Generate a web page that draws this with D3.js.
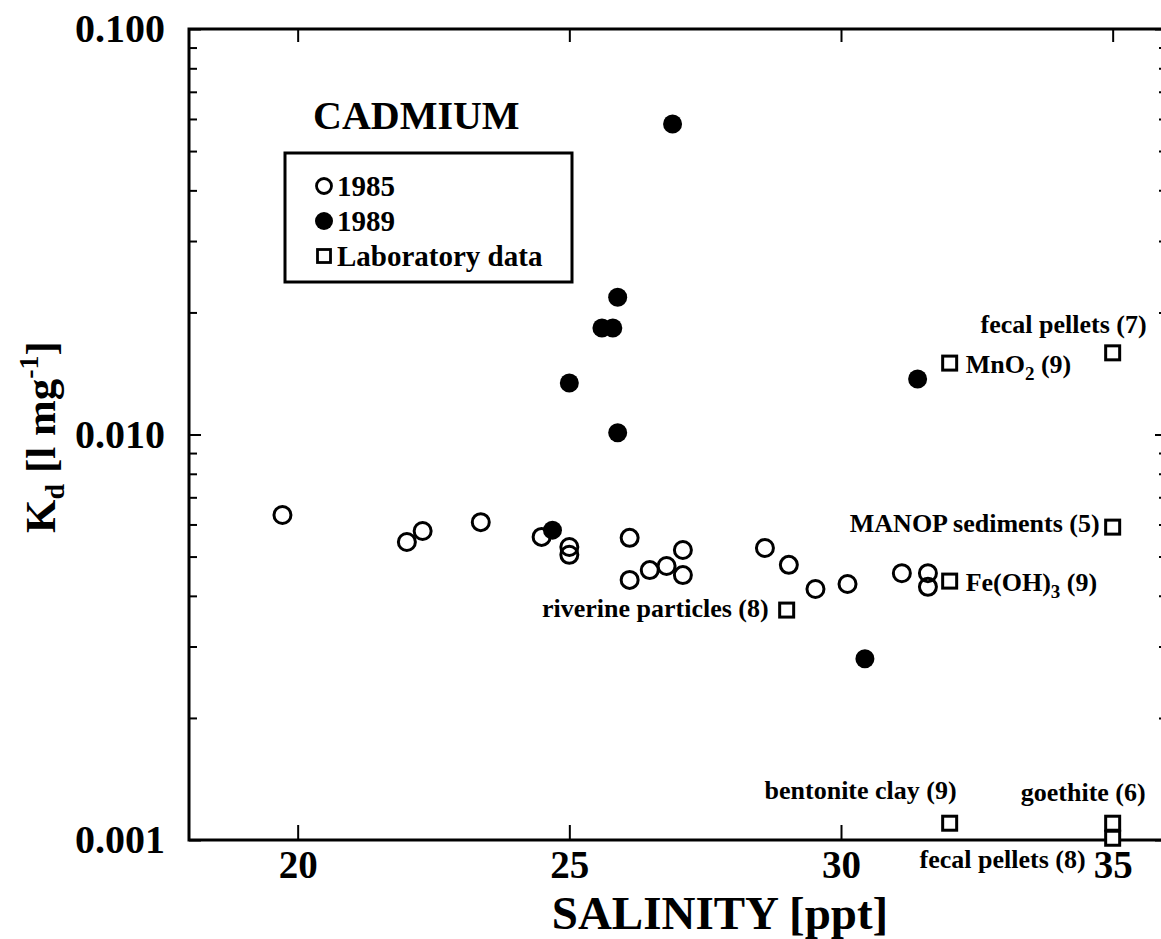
<!DOCTYPE html>
<html lang="en">
<head>
    <meta charset="utf-8">
    <title>Cadmium Kd vs salinity</title>
    <script src="https://d3js.org/d3.v7.js"></script>
    <style>
        body { margin: 0; background: #fff; }
        svg text {
            font-family: "Liberation Serif", "Times New Roman", serif;
            font-weight: bold;
            fill: #000;
        }
        .axis path { display: none; }
        .axis line { stroke: #000; stroke-width: 2px; }
    </style>
</head>
<body>
<svg width="1161" height="939"></svg>
<script type="text/javascript">
    // 1985 survey (open circles)
    const sal1985 = [19.72, 22.01, 22.30, 23.37, 24.49, 25.0, 25.0, 26.11, 26.11, 26.48,
        26.79, 27.09, 27.09, 28.60, 29.04, 29.53, 30.12, 31.12, 31.60, 31.60];
    const kd1985 = [0.00633, 0.00543, 0.00578, 0.00608, 0.00559, 0.00528, 0.00505, 0.00556, 0.00438, 0.00463,
        0.00474, 0.00519, 0.00450, 0.00525, 0.00477, 0.00416, 0.00428, 0.00455, 0.00455, 0.00421];

    // 1989 survey (filled circles)
    const sal1989 = [26.90, 25.89, 25.60, 25.80, 25.0, 25.89, 24.69, 31.41, 30.44];
    const kd1989 = [0.0583, 0.0218, 0.0183, 0.0183, 0.0134, 0.0101, 0.00581, 0.0137, 0.00280];

    // laboratory data (open squares)
    const labNames = ["fecal pellets (7)", "MnO_2 (9)", "MANOP sediments (5)", "Fe(OH)_3 (9)",
        "riverine particles (8)", "bentonite clay (9)", "goethite (6)", "fecal pellets (8)"];
    const salLab = [35, 32, 35, 32, 29, 32, 35, 35];
    const kdLab = [0.0159, 0.0150, 0.00591, 0.00435, 0.00369, 0.00110, 0.00110, 0.00101];

    const xTicks = [20, 25, 30, 35];
    const yTicks = [0.001, 0.010, 0.100];
    const legendItems = ["1985", "1989", "Laboratory data"];

    // where each lab label sits relative to its square
    const labLabelPos = [
        {anchor: "end", dx: 34, dy: -20},
        {anchor: "start", dx: 16, dy: 10},
        {anchor: "end", dx: -13, dy: 5},
        {anchor: "start", dx: 16, dy: 10},
        {anchor: "end", dx: -18, dy: 7},
        {anchor: "end", dx: 7, dy: -24},
        {anchor: "end", dx: 33, dy: -22},
        {anchor: "end", dx: -27, dy: 30}
    ];

    let svg = d3.select("svg");
    let mLeft = 189, mRight = 1167, mTop = 29, mBottom = 840;

    let x = d3.scaleLinear().domain([18, 36]).range([mLeft, mRight]);
    let y = d3.scaleLog().domain([0.001, 0.1]).range([mBottom, mTop]);

    let minor = [];
    [0.001, 0.01].forEach(function (base) {
        for (let k = 2; k <= 9; k++) minor.push(base * k);
    });

    // left axis: major + minor ticks pointing inward
    svg.append("g").attr("class", "axis")
        .attr("transform", "translate(" + mLeft + ",0)")
        .call(d3.axisLeft(y).tickValues(yTicks).tickFormat(d3.format(".3f"))
            .tickSizeInner(-12).tickSizeOuter(0).tickPadding(24))
        .selectAll("text").style("font-size", "40px");
    svg.append("g").attr("class", "axis")
        .attr("transform", "translate(" + mLeft + ",0)")
        .call(d3.axisLeft(y).tickValues(minor).tickFormat("").tickSizeInner(-8).tickSizeOuter(0));

    // right axis ticks
    svg.append("g").attr("class", "axis")
        .attr("transform", "translate(" + mRight + ",0)")
        .call(d3.axisRight(y).tickValues(yTicks).tickFormat("").tickSizeInner(-12).tickSizeOuter(0));
    svg.append("g").attr("class", "axis")
        .attr("transform", "translate(" + mRight + ",0)")
        .call(d3.axisRight(y).tickValues(minor).tickFormat("").tickSizeInner(-8).tickSizeOuter(0));

    // bottom and top axes
    svg.append("g").attr("class", "axis")
        .attr("transform", "translate(0," + mBottom + ")")
        .call(d3.axisBottom(x).tickValues(xTicks).tickFormat(d3.format("d"))
            .tickSizeInner(-15).tickSizeOuter(0).tickPadding(10))
        .selectAll("text").style("font-size", "39px");
    svg.append("g").attr("class", "axis")
        .attr("transform", "translate(0," + mTop + ")")
        .call(d3.axisTop(x).tickValues(xTicks).tickFormat("").tickSizeInner(-13).tickSizeOuter(0));

    // frame
    svg.append("rect")
        .attr("x", mLeft).attr("y", mTop)
        .attr("width", mRight - mLeft).attr("height", mBottom - mTop)
        .attr("fill", "none").attr("stroke", "#000").attr("stroke-width", 3);

    // axis titles
    svg.append("text")
        .attr("x", 720).attr("y", 929)
        .attr("text-anchor", "middle")
        .style("font-size", "47px")
        .text("SALINITY [ppt]");

    let yTitle = svg.append("text")
        .attr("transform", "translate(55,437) rotate(-90)")
        .attr("text-anchor", "middle")
        .style("font-size", "43px");
    yTitle.append("tspan").text("K");
    yTitle.append("tspan").attr("dy", 9).style("font-size", "28px").text("d");
    yTitle.append("tspan").attr("dy", -9).text(" [l mg");
    yTitle.append("tspan").attr("dy", -17).style("font-size", "28px").text("-1");
    yTitle.append("tspan").attr("dy", 17).text("]");

    // CADMIUM title + legend
    svg.append("text")
        .attr("x", 313).attr("y", 129)
        .style("font-size", "40px")
        .text("CADMIUM");

    svg.append("rect")
        .attr("x", 285).attr("y", 153).attr("width", 287).attr("height", 129)
        .attr("fill", "#fff").attr("stroke", "#000").attr("stroke-width", 3);

    let legend = svg.append("g").selectAll("g")
        .data(legendItems)
        .join("g")
        .attr("transform", function (d, i) { return "translate(324," + (186 + i * 35) + ")"; });
    legend.each(function (d, i) {
        let g = d3.select(this);
        if (i === 0) {
            g.append("circle").attr("r", 7.5).attr("fill", "#fff").attr("stroke", "#000").attr("stroke-width", 2.8);
        } else if (i === 1) {
            g.append("circle").attr("r", 9).attr("fill", "#000");
        } else {
            g.append("rect").attr("x", -6.5).attr("y", -6.5).attr("width", 13).attr("height", 13)
                .attr("fill", "#fff").attr("stroke", "#000").attr("stroke-width", 2.8);
        }
    });
    legend.append("text")
        .attr("x", 13).attr("y", 10)
        .style("font-size", "29px")
        .text(function (d) { return d; });

    // lab squares
    let labData = labNames.map(function (name, i) {
        return {name: name, sal: salLab[i], kd: kdLab[i], pos: labLabelPos[i]};
    });
    svg.append("g").selectAll("rect")
        .data(labData)
        .join("rect")
        .attr("x", function (d) { return x(d.sal) - 7; })
        .attr("y", function (d) { return y(d.kd) - 7; })
        .attr("width", 14).attr("height", 14)
        .attr("fill", "#fff").attr("stroke", "#000").attr("stroke-width", 3);

    let labels = svg.append("g").selectAll("text")
        .data(labData)
        .join("text")
        .attr("x", function (d) { return x(d.sal) + d.pos.dx; })
        .attr("y", function (d) { return y(d.kd) + d.pos.dy; })
        .attr("text-anchor", function (d) { return d.pos.anchor; })
        .style("font-size", "26px");
    labels.each(function (d) {
        let t = d3.select(this);
        let parts = d.name.split(/_(\d)/);
        parts.forEach(function (p, j) {
            if (j % 2 === 1) {
                t.append("tspan").attr("dy", 7).style("font-size", "19px").text(p);
            } else {
                let s = t.append("tspan").text(p);
                if (j > 0) s.attr("dy", -7);
            }
        });
    });

    // 1985 open circles
    svg.append("g").selectAll("circle")
        .data(d3.range(sal1985.length))
        .join("circle")
        .attr("cx", function (i) { return x(sal1985[i]); })
        .attr("cy", function (i) { return y(kd1985[i]); })
        .attr("r", 8.5)
        .attr("fill", "none").attr("stroke", "#000").attr("stroke-width", 3);

    // 1989 filled circles
    svg.append("g").selectAll("circle")
        .data(d3.range(sal1989.length))
        .join("circle")
        .attr("cx", function (i) { return x(sal1989[i]); })
        .attr("cy", function (i) { return y(kd1989[i]); })
        .attr("r", 9.5)
        .attr("fill", "#000");
</script>
</body>
</html>
